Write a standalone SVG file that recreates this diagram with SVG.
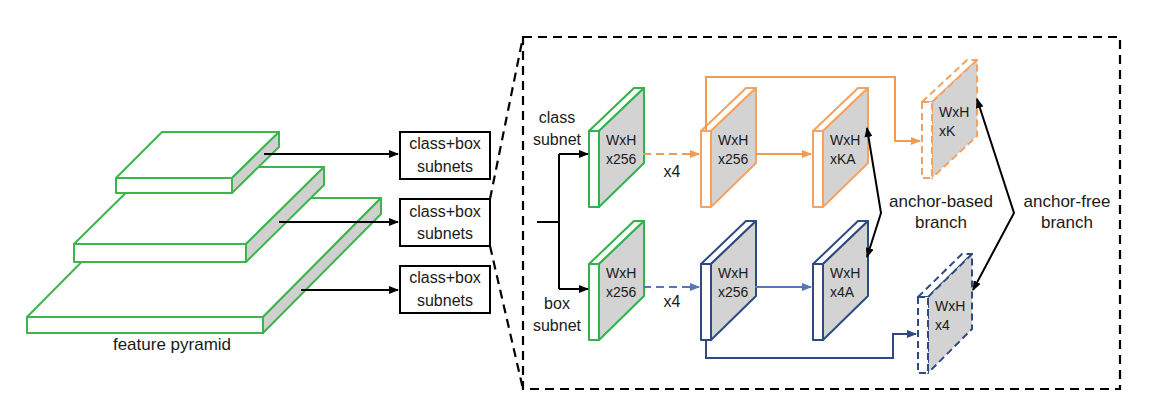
<svg xmlns="http://www.w3.org/2000/svg" width="1151" height="410" viewBox="0 0 1151 410">
<style>
text{font-family:"Liberation Sans",Arial,sans-serif;fill:#1a1a1a;stroke:none}
.lbl{font-size:16px;text-anchor:middle}
.big{font-size:17px;text-anchor:middle}
.in{font-size:14px}
.slab .f,.slab .t{fill:#fff;stroke:#3cb54a;stroke-width:2;stroke-linejoin:round}
.slab .s{fill:#d0d0d0;stroke:#3cb54a;stroke-width:2;stroke-linejoin:round}
.blk .f,.blk .t{fill:#fff;stroke-width:2;stroke-linejoin:round}
.blk .s{fill:#d3d3d3;stroke-width:2;stroke-linejoin:round}
.g .f,.g .t,.g .s{stroke:#2fb34a}
.o .f,.o .t,.o .s{stroke:#f4a261}
.b .f,.b .t,.b .s{stroke:#2f4a80}
.dash .f,.dash .t,.dash .s{stroke-dasharray:7 4}
.box{fill:#fff;stroke:#000;stroke-width:2}
.k{fill:none;stroke:#000;stroke-width:2}
.oa{fill:none;stroke:#f29a4e;stroke-width:2}
.ba{fill:none;stroke:#5477b5;stroke-width:2}
.bl{fill:none;stroke:#2f4a80;stroke-width:2}
.dsh{fill:none;stroke:#000;stroke-width:2.2;stroke-dasharray:9 6}
</style>
<defs>
<marker id="ak" markerWidth="10" markerHeight="8" refX="9" refY="4" orient="auto-start-reverse" markerUnits="userSpaceOnUse"><path d="M0,0 L10,4 L0,8 z" fill="#000"/></marker>
<marker id="ao" markerWidth="10" markerHeight="8" refX="9" refY="4" orient="auto" markerUnits="userSpaceOnUse"><path d="M0,0 L10,4 L0,8 z" fill="#f29a4e"/></marker>
<marker id="ab" markerWidth="10" markerHeight="8" refX="9" refY="4" orient="auto" markerUnits="userSpaceOnUse"><path d="M0,0 L10,4 L0,8 z" fill="#5477b5"/></marker>
<marker id="abl" markerWidth="10" markerHeight="8" refX="9" refY="4" orient="auto" markerUnits="userSpaceOnUse"><path d="M0,0 L10,4 L0,8 z" fill="#2f4a80"/></marker>
</defs>

<g id="feature-pyramid" class="slab">
<g id="slab-bottom">
<polygon class="t" points="27,317 145,198 381,198 263,317"/>
<polygon class="s" points="263,317 381,198 381,214 263,333"/>
<rect class="f" x="27" y="317" width="236" height="16"/>
</g>
<g id="slab-middle">
<polygon class="t" points="74,244 152,167 324,167 246,244"/>
<polygon class="s" points="246,244 324,167 324,185 246,262"/>
<rect class="f" x="74" y="244" width="172" height="18"/>
</g>
<g id="slab-top">
<polygon class="t" points="116,178 162,132 279,132 232,178"/>
<polygon class="s" points="232,178 279,132 279,147 232,193"/>
<rect class="f" x="116" y="178" width="116" height="15"/>
</g>
<text class="big" x="172" y="350">feature pyramid</text>
</g>

<g id="subnet-box-1"><rect class="box" x="400" y="132" width="90" height="47"/><text class="lbl" x="445" y="149">class+box</text><text class="lbl" x="445" y="172">subnets</text></g>
<g id="subnet-box-2"><rect class="box" x="400" y="199" width="90" height="47"/><text class="lbl" x="445" y="216.5">class+box</text><text class="lbl" x="445" y="239">subnets</text></g>
<g id="subnet-box-3"><rect class="box" x="400" y="266" width="90" height="47"/><text class="lbl" x="445" y="283">class+box</text><text class="lbl" x="445" y="306">subnets</text></g>

<g id="detail-frame">
<rect class="dsh" x="523" y="37" width="597" height="352"/>
<path class="dsh" d="M490,199 L523,37 M490,246 L523,389"/>
</g>

<g id="class-in" class="blk g" transform="translate(589,131)"><polygon class="t" points="0,0 45,-43 55,-43 10,0"/><polygon class="s" points="10,0 55,-43 55,32 10,76"/><rect class="f" width="10" height="76"/><text class="in" x="17" y="14">WxH</text><text class="in" x="17" y="33">x256</text></g>
<g id="class-mid" class="blk o" transform="translate(701,131)"><polygon class="t" points="0,0 45,-43 55,-43 10,0"/><polygon class="s" points="10,0 55,-43 55,32 10,76"/><rect class="f" width="10" height="76"/><text class="in" x="17" y="14">WxH</text><text class="in" x="17" y="33">x256</text></g>
<g id="class-out" class="blk o" transform="translate(813,131)"><polygon class="t" points="0,0 45,-43 55,-43 10,0"/><polygon class="s" points="10,0 55,-43 55,32 10,76"/><rect class="f" width="10" height="76"/><text class="in" x="17" y="14">WxH</text><text class="in" x="17" y="33">xKA</text></g>
<g id="class-free" class="blk o dash" transform="translate(922,102)"><polygon class="t" points="0,0 45,-42 55,-42 10,0"/><polygon class="s" points="10,0 55,-42 55,34 10,76"/><rect class="f" width="10" height="76"/><text class="in" x="17" y="15">WxH</text><text class="in" x="17" y="34">xK</text></g>

<g id="box-in" class="blk g" transform="translate(589,264)"><polygon class="t" points="0,0 45,-43 55,-43 10,0"/><polygon class="s" points="10,0 55,-43 55,32 10,76"/><rect class="f" width="10" height="76"/><text class="in" x="17" y="14">WxH</text><text class="in" x="17" y="33">x256</text></g>
<g id="box-mid" class="blk b" transform="translate(701,264)"><polygon class="t" points="0,0 45,-43 55,-43 10,0"/><polygon class="s" points="10,0 55,-43 55,32 10,76"/><rect class="f" width="10" height="76"/><text class="in" x="17" y="14">WxH</text><text class="in" x="17" y="33">x256</text></g>
<g id="box-out" class="blk b" transform="translate(813,264)"><polygon class="t" points="0,0 45,-43 55,-43 10,0"/><polygon class="s" points="10,0 55,-43 55,32 10,76"/><rect class="f" width="10" height="76"/><text class="in" x="17" y="14">WxH</text><text class="in" x="17" y="33">x4A</text></g>
<g id="box-free" class="blk b dash" transform="translate(918,297)"><polygon class="t" points="0,0 44,-43 54,-43 10,0"/><polygon class="s" points="10,0 54,-43 54,32 10,76"/><rect class="f" width="10" height="76"/><text class="in" x="17" y="14">WxH</text><text class="in" x="17" y="33">x4</text></g>

<g id="connectors">
<path class="k" d="M264,154 H398" marker-end="url(#ak)"/>
<path class="k" d="M279,222 H398" marker-end="url(#ak)"/>
<path class="k" d="M301,290 H398" marker-end="url(#ak)"/>
<path class="k" d="M537,222 H559 M559,154 V289"/>
<path class="k" d="M559,154 H588" marker-end="url(#ak)"/>
<path class="k" d="M559,289 H588" marker-end="url(#ak)"/>
<path class="oa" d="M643,154 H699" stroke-dasharray="8 5" marker-end="url(#ao)"/>
<path class="oa" d="M755,154 H811" marker-end="url(#ao)"/>
<path class="oa" d="M706,130 V77 H895 V141 H920" marker-end="url(#ao)"/>
<path class="ba" d="M643,287 H699" stroke-dasharray="8 5" marker-end="url(#ab)"/>
<path class="ba" d="M755,287 H811" marker-end="url(#ab)"/>
<path class="bl" d="M706,340 V358 H893 V334 H916" marker-end="url(#abl)"/>
<path class="k" d="M867,128 L881,213 L867,257" stroke-width="1.8" marker-start="url(#ak)" marker-end="url(#ak)"/>
<path class="k" d="M977,99 L1014,213 L973,290" stroke-width="1.8" marker-start="url(#ak)" marker-end="url(#ak)"/>
</g>

<g id="labels">
<text class="lbl" x="557" y="123">class</text>
<text class="lbl" x="557" y="145">subnet</text>
<text class="lbl" x="557" y="309">box</text>
<text class="lbl" x="557" y="331">subnet</text>
<text class="lbl" x="672" y="177">x4</text>
<text class="lbl" x="672" y="307">x4</text>
<text class="big" x="941" y="207">anchor-based</text>
<text class="big" x="941" y="228">branch</text>
<text class="big" x="1067" y="207">anchor-free</text>
<text class="big" x="1067" y="228">branch</text>
</g>
</svg>
